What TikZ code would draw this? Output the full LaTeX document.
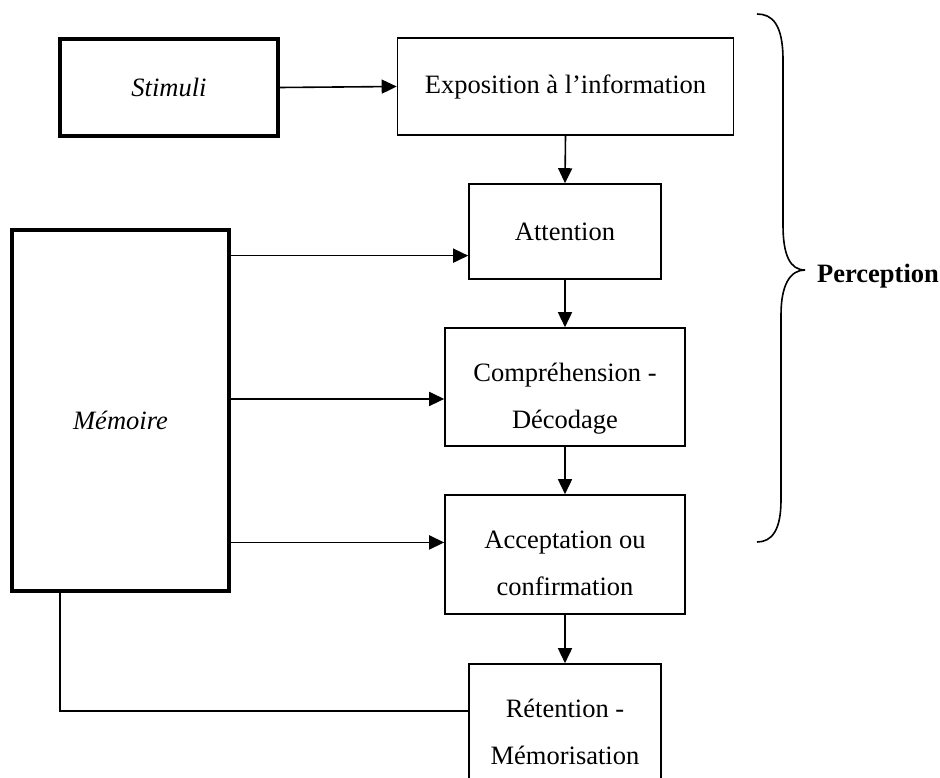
\documentclass[tikz,border=0pt]{standalone}
\usepackage{fontspec}
\setmainfont{Liberation Serif}
\usepackage{xcolor}
\usepackage{tikz}
\usetikzlibrary{arrows.meta, calc, positioning}
\colorlet{line-color}{black}
\tikzset{
    stage/.style = {draw=line-color, line width=1.6pt, inner sep=0pt, align=center,
        font=\fontsize{26.5}{47}\selectfont},
    two-line/.style = {stage, text height=82pt, text depth=0pt},
    heavy-stage/.style = {stage, line width=3.4pt},
    flow/.style = {draw=line-color, line width=1.6pt, -{Triangle[length=15pt,width=14pt]}},
    plain-flow/.style = {draw=line-color, line width=1.6pt}
}

\begin{document}
\begin{tikzpicture}[x=1pt,y=-1pt]
\useasboundingbox (0,0) rectangle (940,778);

\node(stim)[heavy-stage, minimum width=218pt, minimum height=97pt] at (169,87.5) {\itshape Stimuli};
\node(expo)[stage, minimum width=336pt, minimum height=97pt] at (565.5,86.5) {Exposition à l’information};
\node(att)[stage, minimum width=192pt, minimum height=95pt] at (565,231.5) {Attention};
\node(mem)[heavy-stage, minimum width=217pt, minimum height=361pt, text height=38pt, text depth=0pt] at (120.5,410.5) {\itshape Mémoire};
\node(comp)[two-line, minimum width=240pt, minimum height=118pt] at (565,387) {Compréhension -\\Décodage};
\node(acc)[two-line, minimum width=240pt, minimum height=119pt] at (565,554.5) {Acceptation ou\\confirmation};
\node(ret)[two-line, minimum width=192pt, minimum height=118pt] at (565,723) {Rétention -\\Mémorisation};

\coordinate (m-att)  at ($(att.south west)!0.25!(att.north west)$);
\coordinate (m-comp) at ($(comp.south west)!0.4!(comp.north west)$);
\coordinate (m-acc)  at ($(acc.south west)!0.6!(acc.north west)$);
\coordinate (m-ret)  at ($(ret.south west)!0.6!(ret.north west)$);
\coordinate (m-foot) at ($(mem.south west)!0.226!(mem.south east)$);

\draw[flow] (stim.east) -- (expo.west);
\draw[flow] (expo.south) -- (att.north);
\draw[flow] (att.south) -- (comp.north);
\draw[flow] (comp.south) -- (acc.north);
\draw[flow] (acc.south) -- (ret.north);

\draw[flow] (mem.east |- m-att) -- (m-att);
\draw[flow] (mem.east |- m-comp) -- (m-comp);
\draw[flow] (mem.east |- m-acc) -- (m-acc);
\draw[plain-flow] (m-foot) |- (m-ret);

\draw[plain-flow] (757,14) .. controls (772,14) and (783,24) .. (783,60) -- (783,225)
    .. controls (783,255) and (790,270) .. (805,270)
    .. controls (790,270) and (781,285) .. (781,315) -- (781,500)
    .. controls (781,530) and (772,542) .. (757,542);
\node(perc)[anchor=west, inner sep=0pt, font=\fontsize{26.5}{32}\selectfont\bfseries] at (817,276) {Perception};
\end{tikzpicture}
\end{document}
